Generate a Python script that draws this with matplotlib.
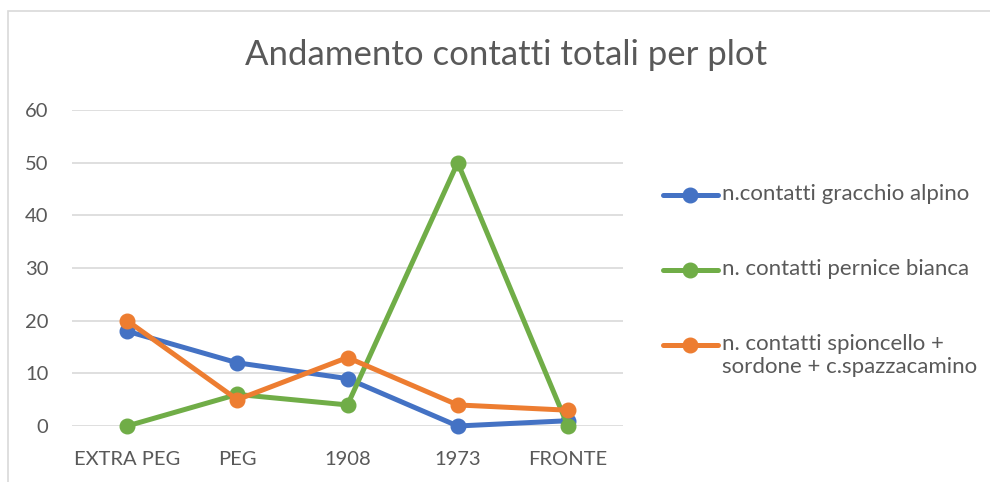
import matplotlib
matplotlib.use("Agg")
import matplotlib.pyplot as plt
from matplotlib.patches import Rectangle
from matplotlib.lines import Line2D

categories = ["EXTRA PEG", "PEG", "1908", "1973", "FRONTE"]
gracchio = [18, 12, 9, 0, 1]
pernice = [0, 6, 4, 50, 0]
spioncello = [20, 5, 13, 4, 3]
series_labels = ["n.contatti gracchio alpino",
                 "n. contatti pernice bianca",
                 "n. contatti spioncello +\nsordone + c.spazzacamino"]
yticks = [0, 10, 20, 30, 40, 50, 60]

plt.rcParams['font.family'] = ['Lato', 'DejaVu Sans']
W, H = 990, 482
fig = plt.figure(figsize=(W/100, H/100), dpi=100)
fig.patches.append(Rectangle((8/W, -0.1), 1.2, 1 - 11/H + 0.1, transform=fig.transFigure,
                             fill=False, edgecolor="#D9D9D9", linewidth=1.2))

ax = fig.add_axes([72/W, 1-426/H, (623-72)/W, (426-110)/H])
x = list(range(len(categories)))
colors = ["#4472C4", "#70AD47", "#ED7D31"]
for vals, c, lab in zip([gracchio, pernice, spioncello], colors, series_labels):
    ax.plot(x, vals, color=c, lw=3.6, marker='o', ms=10.5, label=lab,
            solid_capstyle='round', zorder=3, clip_on=False)

ax.set_xlim(-0.5, 4.5)
ax.set_ylim(0, 60)
ax.set_yticks(yticks)
ax.set_xticks(x)
ax.set_xticklabels(categories)
ax.grid(axis='y', color="#D9D9D9", lw=1.2)
ax.set_axisbelow(True)
for s in ax.spines.values():
    s.set_visible(False)
ax.tick_params(length=0, labelsize=14.5, colors="#595959")
ax.tick_params(axis='x', pad=18)
ax.tick_params(axis='y', pad=17)

fig.text(506/W, 1-55/H, "Andamento contatti totali per plot", ha='center', va='center',
         fontsize=25, color="#595959")

# legend (drawn manually to match the spreadsheet-style layout)
leg_y = [195, 270, 345]
for yy, c, lab in zip(leg_y, colors, series_labels):
    fy = 1 - yy/H
    fig.add_artist(Line2D([663/W, 690/W, 718/W], [fy, fy, fy], color=c, lw=3.6,
                          marker='o', ms=10.5, markevery=[1], solid_capstyle='round',
                          transform=fig.transFigure))
    fig.text(722/W, fy + 11/H, lab, ha='left', va='top', fontsize=16, color="#595959",
             linespacing=1.2)

fig.savefig("out.png", dpi=100)
